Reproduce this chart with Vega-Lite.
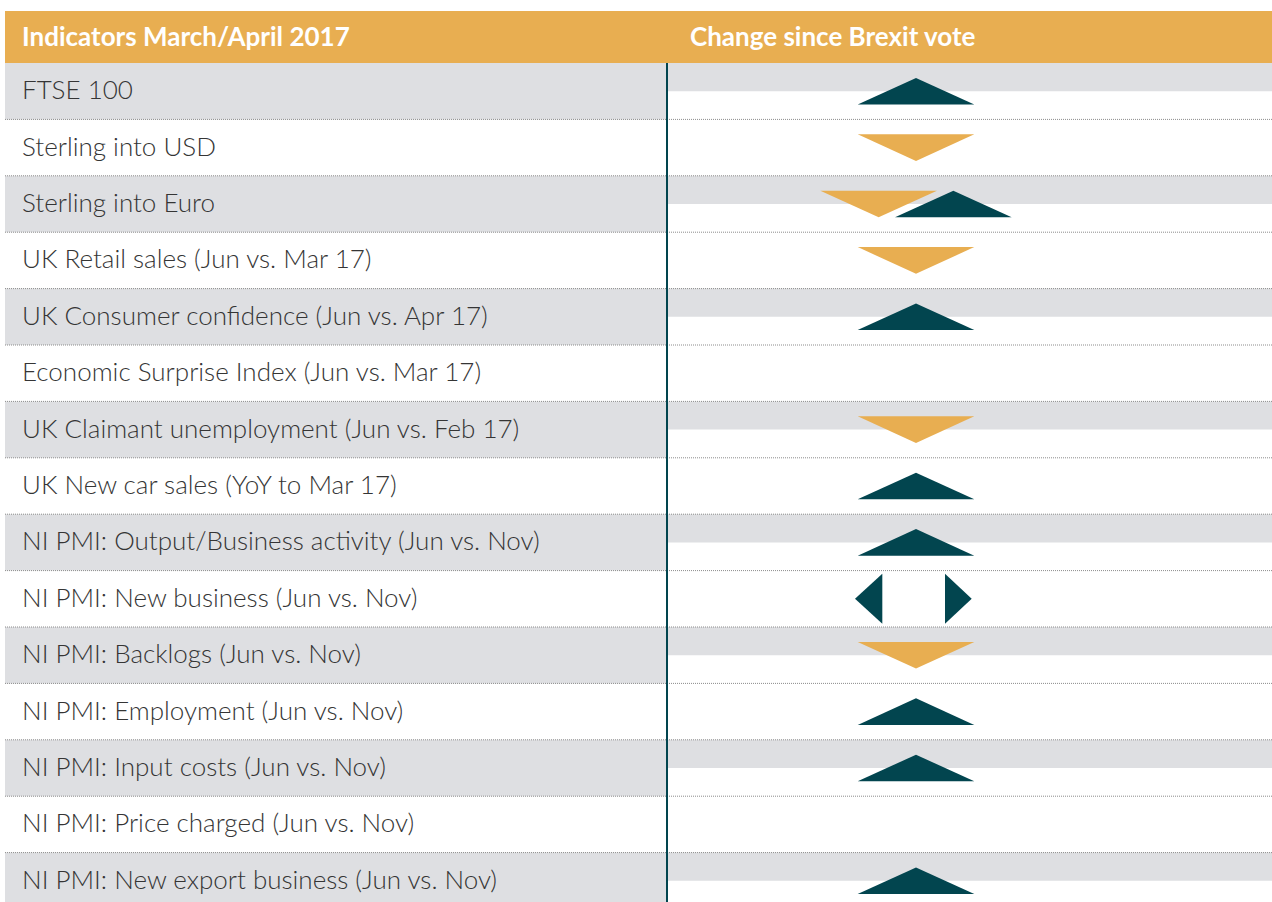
{
  "$schema": "https://vega.github.io/schema/vega-lite/v6.json",
  "background": "#ffffff",
  "padding": {"left": 5, "top": 11, "right": 0, "bottom": 0},
  "config": {"view": {"stroke": null}, "font": "Lato"},
  "datasets": {
    "headers": [
      {"column": "indicator", "heading": "Indicators March/April 2017"},
      {"column": "change", "heading": "Change since Brexit vote"}
    ],
    "indicators": [
      {"indicator": "FTSE 100"},
      {"indicator": "Sterling into USD"},
      {"indicator": "Sterling into Euro"},
      {"indicator": "UK Retail sales (Jun vs. Mar 17)"},
      {"indicator": "UK Consumer confidence (Jun vs. Apr 17)"},
      {"indicator": "Economic Surprise Index (Jun vs. Mar 17)"},
      {"indicator": "UK Claimant unemployment (Jun vs. Feb 17)"},
      {"indicator": "UK New car sales (YoY to Mar 17)"},
      {"indicator": "NI PMI: Output/Business activity (Jun vs. Nov)"},
      {"indicator": "NI PMI: New business (Jun vs. Nov)"},
      {"indicator": "NI PMI: Backlogs (Jun vs. Nov)"},
      {"indicator": "NI PMI: Employment (Jun vs. Nov)"},
      {"indicator": "NI PMI: Input costs (Jun vs. Nov)"},
      {"indicator": "NI PMI: Price charged (Jun vs. Nov)"},
      {"indicator": "NI PMI: New export business (Jun vs. Nov)"}
    ],
    "signals": [
      {"indicator": "FTSE 100", "direction": "up", "slot": "center"},
      {"indicator": "Sterling into USD", "direction": "down", "slot": "center"},
      {"indicator": "Sterling into Euro", "direction": "down", "slot": "left"},
      {"indicator": "Sterling into Euro", "direction": "up", "slot": "right"},
      {"indicator": "UK Retail sales (Jun vs. Mar 17)", "direction": "down", "slot": "center"},
      {"indicator": "UK Consumer confidence (Jun vs. Apr 17)", "direction": "up", "slot": "center"},
      {"indicator": "UK Claimant unemployment (Jun vs. Feb 17)", "direction": "down", "slot": "center"},
      {"indicator": "UK New car sales (YoY to Mar 17)", "direction": "up", "slot": "center"},
      {"indicator": "NI PMI: Output/Business activity (Jun vs. Nov)", "direction": "up", "slot": "center"},
      {"indicator": "NI PMI: New business (Jun vs. Nov)", "direction": "left", "slot": "left"},
      {"indicator": "NI PMI: New business (Jun vs. Nov)", "direction": "right", "slot": "right"},
      {"indicator": "NI PMI: Backlogs (Jun vs. Nov)", "direction": "down", "slot": "center"},
      {"indicator": "NI PMI: Employment (Jun vs. Nov)", "direction": "up", "slot": "center"},
      {"indicator": "NI PMI: Input costs (Jun vs. Nov)", "direction": "up", "slot": "center"},
      {"indicator": "NI PMI: New export business (Jun vs. Nov)", "direction": "up", "slot": "center"}
    ]
  },
  "spacing": 0,
  "hconcat": [
    {
      "spacing": 0,
      "vconcat": [
        {
          "width": 661,
          "height": 52,
          "view": {"fill": "#E8AE51", "stroke": null},
          "data": {"name": "headers"},
          "transform": [{"filter": "datum.column == 'indicator'"}],
          "mark": {"type": "text", "align": "left", "baseline": "middle", "dx": 17, "dy": 1, "font": "Lato", "fontWeight": "bold", "fontSize": 26, "color": "#ffffff"},
          "encoding": {
            "text": {"field": "heading"},
            "x": {"datum": 0, "type": "quantitative", "scale": {"domain": [0, 1]}, "axis": null}
          }
        },
        {
          "width": 661,
          "height": 839,
          "data": {"name": "indicators"},
          "transform": [{"window": [{"op": "row_number", "as": "rn"}]}],
          "layer": [
            {
              "transform": [{"filter": "datum.rn % 2 == 1"}],
              "mark": {"type": "rule", "color": "#DEDFE2", "strokeWidth": 56.4, "clip": true},
              "encoding": {
                "y": {"field": "indicator", "type": "nominal", "bandPosition": 0.5, "axis": null,
                  "scale": {"type": "band", "range": [0, 846], "paddingInner": 0, "paddingOuter": 0,
                    "domain": ["FTSE 100", "Sterling into USD", "Sterling into Euro", "UK Retail sales (Jun vs. Mar 17)", "UK Consumer confidence (Jun vs. Apr 17)", "Economic Surprise Index (Jun vs. Mar 17)", "UK Claimant unemployment (Jun vs. Feb 17)", "UK New car sales (YoY to Mar 17)", "NI PMI: Output/Business activity (Jun vs. Nov)", "NI PMI: New business (Jun vs. Nov)", "NI PMI: Backlogs (Jun vs. Nov)", "NI PMI: Employment (Jun vs. Nov)", "NI PMI: Input costs (Jun vs. Nov)", "NI PMI: Price charged (Jun vs. Nov)", "NI PMI: New export business (Jun vs. Nov)"]}}
              }
            },
            {
              "transform": [{"filter": "datum.rn > 1"}],
              "mark": {"type": "rule", "color": "#8c8c8c", "strokeWidth": 1, "strokeDash": [1, 1], "clip": true},
              "encoding": {
                "y": {"field": "indicator", "type": "nominal", "bandPosition": 0, "axis": null,
                  "scale": {"type": "band", "range": [0, 846], "paddingInner": 0, "paddingOuter": 0,
                    "domain": ["FTSE 100", "Sterling into USD", "Sterling into Euro", "UK Retail sales (Jun vs. Mar 17)", "UK Consumer confidence (Jun vs. Apr 17)", "Economic Surprise Index (Jun vs. Mar 17)", "UK Claimant unemployment (Jun vs. Feb 17)", "UK New car sales (YoY to Mar 17)", "NI PMI: Output/Business activity (Jun vs. Nov)", "NI PMI: New business (Jun vs. Nov)", "NI PMI: Backlogs (Jun vs. Nov)", "NI PMI: Employment (Jun vs. Nov)", "NI PMI: Input costs (Jun vs. Nov)", "NI PMI: Price charged (Jun vs. Nov)", "NI PMI: New export business (Jun vs. Nov)"]}}
              }
            },
            {
              "mark": {"type": "text", "align": "left", "baseline": "middle", "dx": 17, "font": "Lato", "fontWeight": 300, "fontSize": 26, "color": "#353535"},
              "encoding": {
                "text": {"field": "indicator"},
                "x": {"datum": 0, "type": "quantitative", "scale": {"domain": [0, 1]}, "axis": null},
                "y": {"field": "indicator", "type": "nominal", "axis": null,
                  "scale": {"type": "band", "range": [0, 846], "paddingInner": 0, "paddingOuter": 0,
                    "domain": ["FTSE 100", "Sterling into USD", "Sterling into Euro", "UK Retail sales (Jun vs. Mar 17)", "UK Consumer confidence (Jun vs. Apr 17)", "Economic Surprise Index (Jun vs. Mar 17)", "UK Claimant unemployment (Jun vs. Feb 17)", "UK New car sales (YoY to Mar 17)", "NI PMI: Output/Business activity (Jun vs. Nov)", "NI PMI: New business (Jun vs. Nov)", "NI PMI: Backlogs (Jun vs. Nov)", "NI PMI: Employment (Jun vs. Nov)", "NI PMI: Input costs (Jun vs. Nov)", "NI PMI: Price charged (Jun vs. Nov)", "NI PMI: New export business (Jun vs. Nov)"]}}
              }
            }
          ]
        }
      ]
    },
    {
      "spacing": 0,
      "vconcat": [
        {
          "width": 606,
          "height": 52,
          "view": {"fill": "#E8AE51", "stroke": null},
          "data": {"name": "headers"},
          "transform": [{"filter": "datum.column == 'change'"}],
          "mark": {"type": "text", "align": "left", "baseline": "middle", "dx": 24, "dy": 1, "font": "Lato", "fontWeight": "bold", "fontSize": 26, "color": "#ffffff"},
          "encoding": {
            "text": {"field": "heading"},
            "x": {"datum": 0, "type": "quantitative", "scale": {"domain": [0, 1]}, "axis": null}
          }
        },
        {
          "width": 606,
          "height": 839,
          "resolve": {"scale": {"x": "independent"}},
          "layer": [
            {
              "data": {"name": "indicators"},
              "transform": [{"window": [{"op": "row_number", "as": "rn"}]}, {"filter": "datum.rn % 2 == 1"}],
              "mark": {"type": "rule", "color": "#DEDFE2", "strokeWidth": 28.2, "clip": true},
              "encoding": {
                "y": {"field": "indicator", "type": "nominal", "bandPosition": 0.25, "axis": null,
                  "scale": {"type": "band", "range": [0, 846], "paddingInner": 0, "paddingOuter": 0,
                    "domain": ["FTSE 100", "Sterling into USD", "Sterling into Euro", "UK Retail sales (Jun vs. Mar 17)", "UK Consumer confidence (Jun vs. Apr 17)", "Economic Surprise Index (Jun vs. Mar 17)", "UK Claimant unemployment (Jun vs. Feb 17)", "UK New car sales (YoY to Mar 17)", "NI PMI: Output/Business activity (Jun vs. Nov)", "NI PMI: New business (Jun vs. Nov)", "NI PMI: Backlogs (Jun vs. Nov)", "NI PMI: Employment (Jun vs. Nov)", "NI PMI: Input costs (Jun vs. Nov)", "NI PMI: Price charged (Jun vs. Nov)", "NI PMI: New export business (Jun vs. Nov)"]}}
              }
            },
            {
              "data": {"name": "indicators"},
              "transform": [{"window": [{"op": "row_number", "as": "rn"}]}, {"filter": "datum.rn > 1"}],
              "mark": {"type": "rule", "color": "#8c8c8c", "strokeWidth": 1, "strokeDash": [1, 1], "clip": true},
              "encoding": {
                "y": {"field": "indicator", "type": "nominal", "bandPosition": 0, "axis": null,
                  "scale": {"type": "band", "range": [0, 846], "paddingInner": 0, "paddingOuter": 0,
                    "domain": ["FTSE 100", "Sterling into USD", "Sterling into Euro", "UK Retail sales (Jun vs. Mar 17)", "UK Consumer confidence (Jun vs. Apr 17)", "Economic Surprise Index (Jun vs. Mar 17)", "UK Claimant unemployment (Jun vs. Feb 17)", "UK New car sales (YoY to Mar 17)", "NI PMI: Output/Business activity (Jun vs. Nov)", "NI PMI: New business (Jun vs. Nov)", "NI PMI: Backlogs (Jun vs. Nov)", "NI PMI: Employment (Jun vs. Nov)", "NI PMI: Input costs (Jun vs. Nov)", "NI PMI: Price charged (Jun vs. Nov)", "NI PMI: New export business (Jun vs. Nov)"]}}
              }
            },
            {
              "data": {"name": "headers"},
              "transform": [{"filter": "datum.column == 'change'"}],
              "mark": {"type": "rule", "color": "#02454F", "strokeWidth": 4, "clip": true},
              "encoding": {
                "x": {"datum": 0, "type": "quantitative", "scale": {"domain": [0, 1]}, "axis": null}
              }
            },
            {
              "data": {"name": "signals"},
              "mark": {"type": "point", "filled": true, "opacity": 1, "size": 10000, "strokeWidth": 0},
              "encoding": {
                "x": {"field": "slot", "type": "nominal", "axis": null,
                  "scale": {"type": "point", "domain": ["left", "center", "right"], "range": [212.65, 287.35], "padding": 0}},
                "y": {"field": "indicator", "type": "nominal", "axis": null,
                  "scale": {"type": "band", "range": [0, 846], "paddingInner": 0, "paddingOuter": 0,
                    "domain": ["FTSE 100", "Sterling into USD", "Sterling into Euro", "UK Retail sales (Jun vs. Mar 17)", "UK Consumer confidence (Jun vs. Apr 17)", "Economic Surprise Index (Jun vs. Mar 17)", "UK Claimant unemployment (Jun vs. Feb 17)", "UK New car sales (YoY to Mar 17)", "NI PMI: Output/Business activity (Jun vs. Nov)", "NI PMI: New business (Jun vs. Nov)", "NI PMI: Backlogs (Jun vs. Nov)", "NI PMI: Employment (Jun vs. Nov)", "NI PMI: Input costs (Jun vs. Nov)", "NI PMI: Price charged (Jun vs. Nov)", "NI PMI: New export business (Jun vs. Nov)"]}},
                "shape": {"field": "direction", "type": "nominal", "legend": null,
                  "scale": {"domain": ["up", "down", "left", "right"],
                    "range": ["M-1.166,0.266L0,-0.266L1.166,0.266Z", "M-1.166,-0.266L1.166,-0.266L0,0.266Z", "M-0.473,0L0.073,-0.5L0.073,0.5Z", "M-0.167,-0.5L0.367,0L-0.167,0.5Z"]}},
                "color": {"field": "direction", "type": "nominal", "legend": null,
                  "scale": {"domain": ["up", "down", "left", "right"], "range": ["#02454F", "#E8AE51", "#02454F", "#02454F"]}}
              }
            }
          ]
        }
      ]
    }
  ]
}
